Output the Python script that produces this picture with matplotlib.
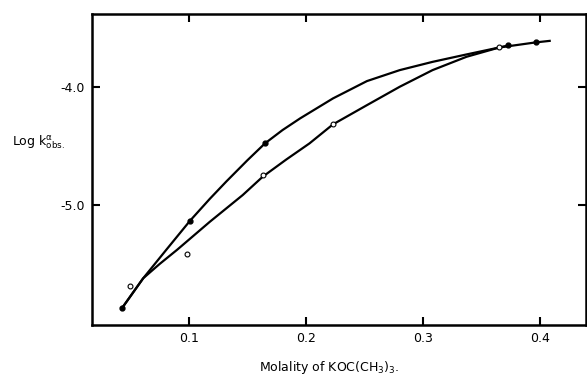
#!/usr/bin/env python3

# log k_obs vs molality of potassium t-butoxide
import matplotlib
matplotlib.use('Agg')
import matplotlib.pyplot as plt

# points
upper_x = [0.043, 0.061, 0.081, 0.101, 0.118, 0.132, 0.150, 0.165, 0.180,
           0.195, 0.223, 0.252, 0.280, 0.308, 0.337, 0.365, 0.396, 0.408]
upper_y = [-5.873, -5.621, -5.376, -5.133, -4.946, -4.800, -4.620, -4.477,
           -4.364, -4.265, -4.096, -3.949, -3.856, -3.786, -3.723, -3.664,
           -3.621, -3.608]
lower_x = [0.043, 0.061, 0.075, 0.090, 0.118, 0.146, 0.163, 0.183, 0.203,
           0.223, 0.252, 0.280, 0.308, 0.337, 0.365, 0.374]
lower_y = [-5.873, -5.621, -5.500, -5.379, -5.141, -4.915, -4.760, -4.615,
           -4.477, -4.316, -4.153, -3.997, -3.856, -3.743, -3.664, -3.644]

# measured points
filled_x = [0.043, 0.101, 0.165, 0.372, 0.396]
filled_y = [-5.873, -5.133, -4.477, -3.640, -3.621]
open_x = [0.050, 0.098, 0.163, 0.223, 0.365]
open_y = [-5.686, -5.415, -4.746, -4.316, -3.664]

x_ticks = [0.1, 0.2, 0.3, 0.4]
x_labels = ['0.1', '0.2', '0.3', '0.4']
y_ticks = [-5.0, -4.0]
y_labels = ['-5.0', '-4.0']


def main():
    plt.rcParams['font.family'] = ['DejaVu Sans']
    plt.rcParams['mathtext.default'] = 'regular'

    fig = plt.figure(figsize=(5.87, 3.81), dpi=100)
    ax = fig.add_axes([0.1567, 0.147, 0.8416, 0.8163])

    ax.plot(upper_x, upper_y, color='black', lw=1.6)
    ax.plot(lower_x, lower_y, color='black', lw=1.6)
    ax.plot(filled_x, filled_y, 'o', color='black', ms=3.5)
    ax.plot(open_x, open_y, 'o', mfc='white', mec='black', mew=0.8, ms=3.5)

    ax.set_xlim(0.0173, 0.439)
    ax.set_ylim(-6.017, -3.38)

    ax.set_xticks(x_ticks)
    ax.set_xticklabels(x_labels)
    ax.set_yticks(y_ticks)
    ax.set_yticklabels(y_labels)
    ax.tick_params(direction='in', length=6, width=1.5, labelsize=9,
                   top=True, right=True, pad=5)

    for sp in ax.spines.values():
        sp.set_linewidth(1.8)

    fig.text(0.56, 0.035, 'Molality of KOC(CH$_3$)$_3$.', ha='center',
             va='center', fontsize=9)
    fig.text(0.02, 0.627, 'Log k$^{\\alpha}_{obs.}$', ha='left',
             va='center', fontsize=9)

    fig.savefig('out.png', dpi=100)


if __name__ == '__main__':
    main()
